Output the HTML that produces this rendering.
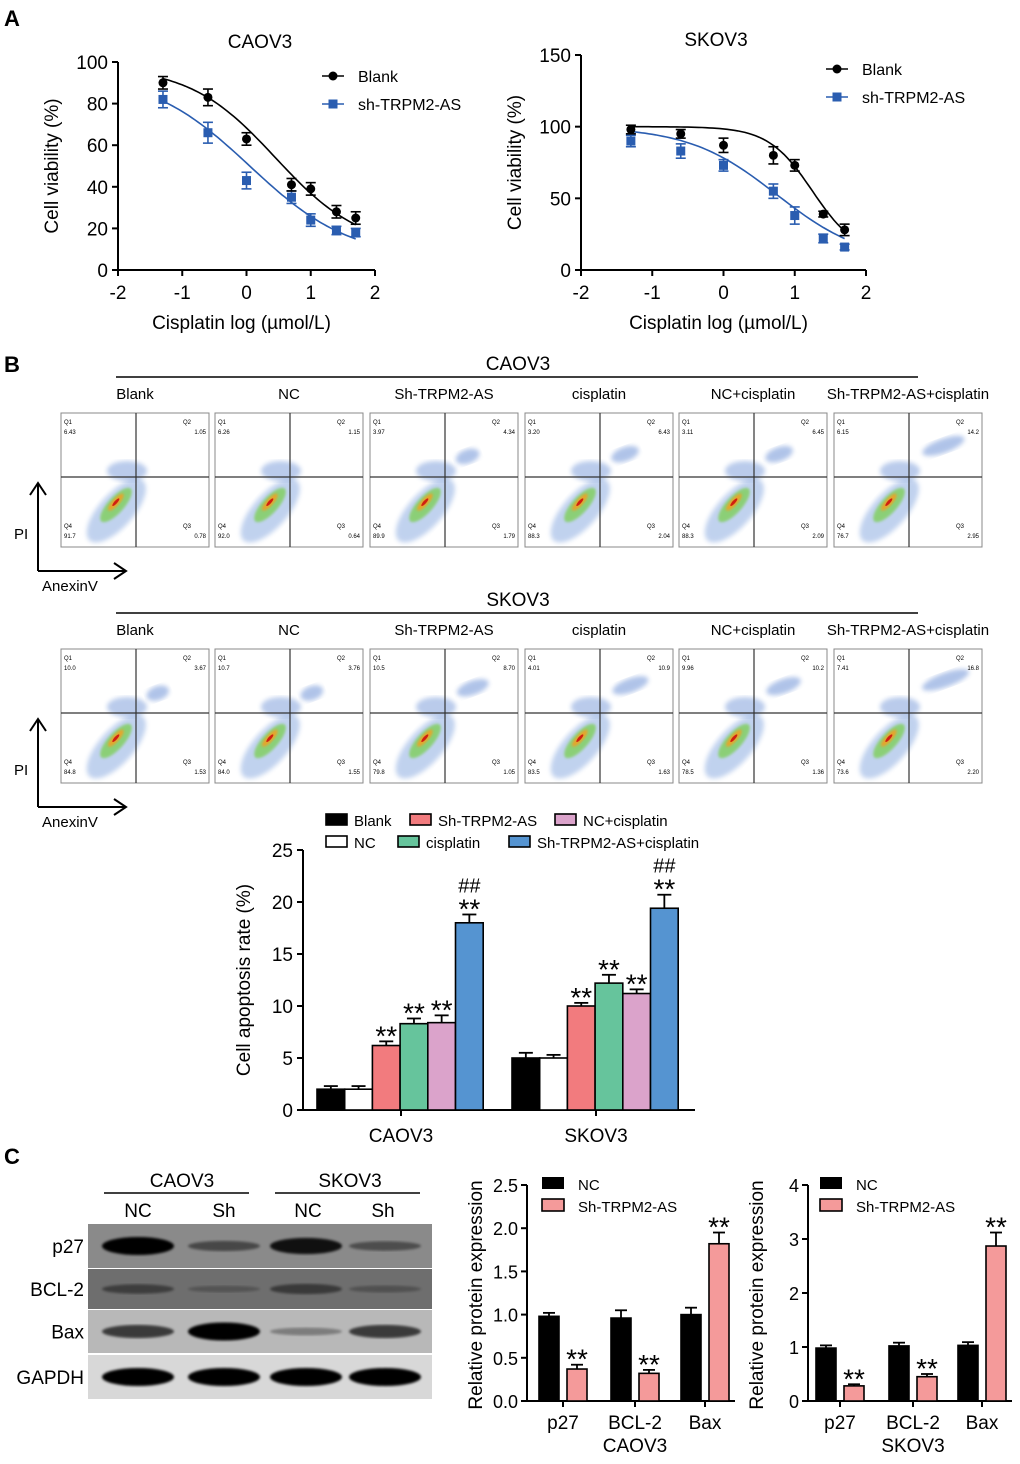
<!DOCTYPE html>
<html><head><meta charset="utf-8"><style>
html,body{margin:0;padding:0;background:#fff}
svg text{font-family:"Liberation Sans",Arial,sans-serif;fill:#000}
</style></head><body>
<svg id="fig" width="1020" height="1459" viewBox="0 0 1020 1459" xmlns="http://www.w3.org/2000/svg">
<defs>
<filter id="blur2"><feGaussianBlur stdDeviation="2.5"/></filter>
<filter id="blur1"><feGaussianBlur stdDeviation="1.2"/></filter>
</defs>
<g id="root"></g>
</svg>
<script>
// ---------- Panel A data ----------
const doseLog = [-1.3, -0.6, 0, 0.7, 1, 1.4, 1.7];
const caovBlank = [90, 83, 63, 41, 39, 28, 25];
const caovBlankErr = [3, 4, 3, 3, 3, 3, 3];
const caovSh = [82, 66, 43, 35, 24, 19, 18];
const caovShErr = [4, 5, 4, 3, 3, 2, 2];
const skovBlank = [98, 95, 87, 80, 73, 39, 28];
const skovBlankErr = [3, 3, 5, 6, 4, 2, 4];
const skovSh = [90, 83, 73, 55, 38, 22, 16];
const skovShErr = [4, 5, 4, 5, 6, 3, 2];
// ---------- Panel B bar data ----------
const apopGroups = ["CAOV3", "SKOV3"];
const apopSeries = ["Blank", "NC", "Sh-TRPM2-AS", "cisplatin", "NC+cisplatin", "Sh-TRPM2-AS+cisplatin"];
const apopCaov = [2.0, 2.0, 6.2, 8.3, 8.4, 18.0];
const apopCaovErr = [0.3, 0.3, 0.4, 0.5, 0.7, 0.8];
const apopSkov = [5.0, 5.0, 10.0, 12.2, 11.2, 19.4];
const apopSkovErr = [0.5, 0.3, 0.3, 0.8, 0.4, 1.3];
const apopTicks = [0, 5, 10, 15, 20, 25];
// ---------- Panel C bar data ----------
const protCats = ["p27", "BCL-2", "Bax"];
const protCaovNC = [0.98, 0.96, 1.0];
const protCaovNCErr = [0.04, 0.09, 0.08];
const protCaovSh = [0.37, 0.32, 1.82];
const protCaovShErr = [0.05, 0.04, 0.13];
const protSkovNC = [0.98, 1.02, 1.03];
const protSkovNCErr = [0.05, 0.06, 0.06];
const protSkovSh = [0.28, 0.45, 2.87];
const protSkovShErr = [0.03, 0.05, 0.25];
const flowCaovQ = [["6.43","1.05","91.7","0.78"],["6.26","1.15","92.0","0.64"],["3.97","4.34","89.9","1.79"],["3.20","6.43","88.3","2.04"],["3.11","6.45","88.3","2.09"],["6.15","14.2","76.7","2.95"]];
const flowSkovQ = [["10.0","3.67","84.8","1.53"],["10.7","3.76","84.0","1.55"],["10.5","8.70","79.8","1.05"],["4.01","10.9","83.5","1.63"],["9.96","10.2","78.5","1.36"],["7.41","16.8","73.6","2.20"]];
const flowTitles = ["Blank","NC","Sh-TRPM2-AS","cisplatin","NC+cisplatin","Sh-TRPM2-AS+cisplatin"];

const NS = "http://www.w3.org/2000/svg";
const root = document.getElementById("root");
function mk(tag, attrs, parent, text) {
  const e = document.createElementNS(NS, tag);
  for (const k in attrs) e.setAttribute(k, attrs[k]);
  if (text !== undefined) e.textContent = text;
  (parent || root).appendChild(e);
  return e;
}
function grp(name, parent) {
  const g = mk("g", {}, parent);
  
  
  return g;
}
function txt(parent, x, y, s, size, anchor, name, extra) {
  const a = {x: x, y: y, "font-size": size, "text-anchor": anchor || "start"};
  if (extra) for (const k in extra) a[k] = extra[k];
  const t = mk("text", a, parent, s);
  
  
  return t;
}
function line(p, x1, y1, x2, y2, w, c) { return mk("line", {x1, y1, x2, y2, stroke: c || "#000", "stroke-width": w || 2}, p); }

txt(root, 4, 26, "A", 22, "start", "panel-label-a", {"font-weight": "bold"});
txt(root, 4, 372, "B", 22, "start", "panel-label-b", {"font-weight": "bold"});
txt(root, 4, 1164, "C", 22, "start", "panel-label-c", {"font-weight": "bold"});

// ---------- Panel A ----------
function doseChart(name, title, x0, x1, y0, y1, ymax, yticks, blank, blankE, sh, shE, titleX, titleY, legX, legY, p1, p2) {
  const g = grp(name);
  const sx = v => x0 + (v + 2) / 4 * (x1 - x0);
  const sy = v => y0 - v / ymax * (y0 - y1);
  txt(g, titleX, titleY, title, 19, "middle", "chart-title");
  line(g, x0, y0, x1, y0, 2);
  line(g, x0, y0, x0, y1, 2);
  [-2, -1, 0, 1, 2].forEach(v => {
    line(g, sx(v), y0, sx(v), y0 + 6, 2);
    txt(g, sx(v), y0 + 29, String(v), 19, "middle", "x-tick-label");
  });
  yticks.forEach(v => {
    line(g, x0 - 6, sy(v), x0, sy(v), 2);
    txt(g, x0 - 10, sy(v) + 7, String(v), 19, "end", "y-tick-label");
  });
  txt(g, (x0 + x1) / 2 - 5, 329, "Cisplatin log (µmol/L)", 19, "middle", "x-axis-title");
  txt(g, 0, 0, "Cell viability (%)", 19, "middle", "y-axis-title", {transform: `translate(${x0 - 60},${(y0 + y1) / 2}) rotate(-90)`});
  function curve(p, color, cname) {
    let d = "";
    for (let v = doseLog[0]; v <= doseLog[doseLog.length - 1] + 0.001; v += 0.05) {
      const y = p.bot + (p.top - p.bot) / (1 + Math.pow(10, (v - p.ec) * p.h));
      d += (d ? "L" : "M") + sx(v).toFixed(1) + "," + sy(y).toFixed(1);
    }
    const c = mk("path", {d, fill: "none", stroke: color, "stroke-width": 1.6}, g);
    
    
  }
  curve(p1, "#000", "blank-fit-curve");
  curve(p2, "#2a5db0", "sh-fit-curve");
  function pts(vals, errs, color, shape, pname) {
    vals.forEach((v, i) => {
      const cx = sx(doseLog[i]), cy = sy(v), ey = errs[i] / ymax * (y0 - y1);
      line(g, cx, cy - ey, cx, cy + ey, 1.6, color);
      line(g, cx - 5, cy - ey, cx + 5, cy - ey, 1.6, color);
      line(g, cx - 5, cy + ey, cx + 5, cy + ey, 1.6, color);
      let m;
      if (shape === "c") m = mk("circle", {cx, cy, r: 4.5, fill: color}, g);
      else m = mk("rect", {x: cx - 4.5, y: cy - 4.5, width: 9, height: 9, fill: color}, g);
      
      
    });
  }
  pts(sh, shE, "#2a5db0", "s", "sh-point");
  pts(blank, blankE, "#000", "c", "blank-point");
  const lg = grp("legend", g);
  line(lg, legX, legY, legX + 22, legY, 1.6);
  mk("circle", {cx: legX + 11, cy: legY, r: 4.5, fill: "#000"}, lg);
  txt(lg, legX + 36, legY + 6, "Blank", 16, "start", "legend-entry-blank");
  line(lg, legX, legY + 28, legX + 22, legY + 28, 1.6, "#2a5db0");
  mk("rect", {x: legX + 6.5, y: legY + 23.5, width: 9, height: 9, fill: "#2a5db0"}, lg);
  txt(lg, legX + 36, legY + 34, "sh-TRPM2-AS", 16, "start", "legend-entry-sh");
}
doseChart("caov3-viability-chart", "CAOV3", 118, 375, 270, 62, 100, [0, 20, 40, 60, 80, 100], caovBlank, caovBlankErr, caovSh, caovShErr, 260, 48, 322, 76,
  {top: 98, bot: 10, ec: 0.45, h: 0.65}, {top: 95, bot: 5, ec: 0.05, h: 0.55});
doseChart("skov3-viability-chart", "SKOV3", 581, 866, 270, 55, 150, [0, 50, 100, 150], skovBlank, skovBlankErr, skovSh, skovShErr, 716, 46, 826, 69,
  {top: 100, bot: 10, ec: 1.25, h: 1.4}, {top: 100, bot: 5, ec: 0.75, h: 0.7});

// ---------- Panel B flow ----------
function flowRow(name, label, topY, qs) {
  const g = grp(name);
  txt(g, 518, topY - 43, label, 19, "middle", "row-title");
  line(g, 116, topY - 36, 918, topY - 36, 1.5);
  const xs = [61, 215, 370, 525, 679, 834];
  xs.forEach((x, i) => {
    const pg = grp("flow-plot-" + (i + 1), g);
    txt(pg, x + 74, topY - 14, flowTitles[i], 15, "middle", "plot-title");
    const w = 148, h = 134;
    mk("rect", {x, y: topY, width: w, height: h, fill: "#fff", stroke: "#888", "stroke-width": 1}, pg);
    const apo = parseFloat(qs[i][1]);
    const cx = x + 55, cy = topY + 92;
    mk("ellipse", {cx: cx - 4, cy: cy + 4, rx: 40, ry: 17, fill: "#4d7fd0", opacity: 0.35, filter: "url(#blur2)", transform: `rotate(-48 ${cx} ${cy})`}, pg);
    mk("ellipse", {cx: x + 66, cy: topY + 58, rx: 20, ry: 10, fill: "#3a6cc8", opacity: 0.35, filter: "url(#blur2)"}, pg);
    if (apo > 3) mk("ellipse", {cx: x + 90 + Math.min(apo, 16) * 1.5, cy: topY + 45 - Math.min(apo, 16) * 0.6, rx: 8 + apo, ry: 7, fill: "#3a6cc8", opacity: 0.4, filter: "url(#blur2)", transform: `rotate(-20 ${x + 100} ${topY + 40})`}, pg);
    mk("ellipse", {cx, cy, rx: 22, ry: 8, fill: "#7fcf5a", opacity: 0.8, filter: "url(#blur1)", transform: `rotate(-48 ${cx} ${cy})`}, pg);
    mk("ellipse", {cx: cx + 2, cy: cy - 2, rx: 11, ry: 3.5, fill: "#f0a020", opacity: 0.9, filter: "url(#blur1)", transform: `rotate(-48 ${cx} ${cy})`}, pg);
    mk("ellipse", {cx: cx + 2, cy: cy - 2, rx: 5, ry: 1.5, fill: "#d02010", transform: `rotate(-48 ${cx} ${cy})`}, pg);
    line(pg, x + 75, topY, x + 75, topY + h, 1.2, "#333");
    line(pg, x, topY + 64, x + w, topY + 64, 1.2, "#333");
    txt(pg, x + 3, topY + 11, "Q1", 6, "start", "q1-label");
    txt(pg, x + 3, topY + 21, qs[i][0], 6, "start", "q1-value");
    txt(pg, x + 122, topY + 11, "Q2", 6, "start", "q2-label");
    txt(pg, x + 145, topY + 21, qs[i][1], 6, "end", "q2-value");
    txt(pg, x + 3, topY + 115, "Q4", 6, "start", "q4-label");
    txt(pg, x + 3, topY + 125, qs[i][2], 6, "start", "q4-value");
    txt(pg, x + 122, topY + 115, "Q3", 6, "start", "q3-label");
    txt(pg, x + 145, topY + 125, qs[i][3], 6, "end", "q3-value");
  });
  const ag = grp("axis-arrows", g);
  const by = topY + 158;
  mk("path", {d: `M38,${by} L38,${topY + 70} M30,${topY + 82} L38,${topY + 70} L46,${topY + 82} M38,${by} L126,${by} M114,${by - 8} L126,${by} L114,${by + 8}`, fill: "none", stroke: "#000", "stroke-width": 2}, ag);
  txt(ag, 14, topY + 126, "PI", 15, "start", "pi-axis-label");
  txt(ag, 42, topY + 178, "AnexinV", 15, "start", "annexin-axis-label");
}
flowRow("caov3-flow-row", "CAOV3", 413, flowCaovQ);
flowRow("skov3-flow-row", "SKOV3", 649, flowSkovQ);

// ---------- Panel B bars ----------
(function () {
  const g = grp("apoptosis-bar-chart");
  const colors = ["#000", "#fff", "#f27b7e", "#66c49c", "#dba3cb", "#5594d1"];
  const y0 = 1110, y1 = 850, x0 = 303;
  const sy = v => y0 - v / 25 * (y0 - y1);
  const starts = [317, 512], bw = 27.7;
  line(g, x0, y0, 695, y0, 2);
  line(g, x0, y0, x0, y1, 2);
  apopTicks.forEach(v => { line(g, x0 - 6, sy(v), x0, sy(v), 2); txt(g, x0 - 10, sy(v) + 7, String(v), 19, "end", "y-tick-label"); });
  [401, 596].forEach((cx, i) => { line(g, cx, y0, cx, y0 + 6, 2); txt(g, cx, y0 + 32, apopGroups[i], 19, "middle", "x-tick-label"); });
  txt(g, 0, 0, "Cell apoptosis rate (%)", 19, "middle", "y-axis-title", {transform: `translate(250,980) rotate(-90)`});
  [[apopCaov, apopCaovErr], [apopSkov, apopSkovErr]].forEach((ser, gi) => {
    ser[0].forEach((v, i) => {
      const x = starts[gi] + i * bw, cx = x + bw / 2, e = ser[1][i] / 25 * (y0 - y1);
      line(g, cx, sy(v), cx, sy(v) - e, 1.8);
      line(g, cx - 7, sy(v) - e, cx + 7, sy(v) - e, 1.8);
      const r = mk("rect", {x, y: sy(v), width: bw, height: y0 - sy(v), fill: colors[i], stroke: "#000", "stroke-width": 1.6}, g);
      
      
      if (i >= 2) txt(g, cx, sy(v) - e + 4, "**", 28, "middle", "significance-marker");
      if (i === 5) txt(g, cx, sy(v) - e - 22, "##", 20, "middle", "hash-marker");
    });
  });
  const lg = grp("legend", g);
  const items = [[326, 820, 0], [410, 820, 2], [555, 820, 4], [326, 842, 1], [398, 842, 3], [509, 842, 5]];
  items.forEach(it => {
    mk("rect", {x: it[0], y: it[1] - 6, width: 21, height: 11, fill: colors[it[2]], stroke: "#000", "stroke-width": 1.6}, lg);
    txt(lg, it[0] + 28, it[1] + 6, apopSeries[it[2]], 15, "start", "legend-entry");
  });
})();

// ---------- Panel C western blot ----------
(function () {
  const g = grp("western-blot");
  txt(g, 182, 1187, "CAOV3", 19, "middle", "blot-group-caov3");
  txt(g, 350, 1187, "SKOV3", 19, "middle", "blot-group-skov3");
  line(g, 104, 1193, 249, 1193, 1.6);
  line(g, 275, 1193, 420, 1193, 1.6);
  [["NC", 138], ["Sh", 224], ["NC", 308], ["Sh", 383]].forEach(l => txt(g, l[1], 1217, l[0], 19, "middle", "lane-label"));
  const rows = [["p27", 1224, 44, "#8a8a8a", [1, 0.35, 0.85, 0.3]], ["BCL-2", 1269, 40, "#6e6e6e", [0.3, 0.05, 0.35, 0.08]], ["Bax", 1310, 43, "#b8b8b8", [0.6, 1, 0.15, 0.6]], ["GAPDH", 1355, 44, "#d8d8d8", [1, 1, 1, 1]]];
  const lanes = [138, 224, 306, 385];
  rows.forEach(r => {
    const rg = grp("blot-row-" + r[0].toLowerCase(), g);
    mk("rect", {x: 88, y: r[1], width: 344, height: r[2], fill: r[3]}, rg);
    r[4].forEach((s, i) => {
      mk("ellipse", {cx: lanes[i], cy: r[1] + r[2] / 2, rx: 36, ry: 3 + 6 * s, fill: "#000", opacity: 0.2 + 0.8 * s, filter: "url(#blur1)"}, rg);
    });
    txt(rg, 84, r[1] + r[2] / 2 + 7, r[0], 19, "end", "blot-label");
  });
})();

// ---------- Panel C bar charts ----------
function protChart(name, x0, xEnd, ymax, ticks, centers, nc, ncE, sh, shE, cell, legX) {
  const g = grp(name);
  const y0 = 1401, y1 = 1185;
  const sy = v => y0 - v / ymax * (y0 - y1);
  line(g, x0, y0, xEnd, y0, 2);
  line(g, x0, y0, x0, y1, 2);
  ticks.forEach(v => { line(g, x0 - 6, sy(v), x0, sy(v), 2); txt(g, x0 - 9, sy(v) + 7, ymax > 3 ? String(v) : v.toFixed(1), 18, "end", "y-tick-label"); });
  txt(g, 0, 0, "Relative protein expression", 19, "middle", "y-axis-title", {transform: `translate(${x0 - 45},1295) rotate(-90)`});
  centers.forEach((c, i) => {
    line(g, c, y0, c, y0 + 6, 2);
    txt(g, c, y0 + 28, protCats[i], 19, "middle", "x-tick-label");
    [[nc, ncE, "#000", c - 24], [sh, shE, "#f49a9a", c + 4]].forEach((s, j) => {
      const v = s[0][i], e = s[1][i] / ymax * (y0 - y1), cx = s[3] + 10;
      line(g, cx, sy(v), cx, sy(v) - e, 1.8);
      line(g, cx - 6, sy(v) - e, cx + 6, sy(v) - e, 1.8);
      const r = mk("rect", {x: s[3], y: sy(v), width: 20, height: y0 - sy(v), fill: s[2], stroke: "#000", "stroke-width": 1.6}, g);
      
      
      if (j) txt(g, cx, sy(v) - e + 4, "**", 28, "middle", "significance-marker");
    });
  });
  txt(g, centers[1], 1452, cell, 19, "middle", "x-axis-title");
  const lg = grp("legend", g);
  mk("rect", {x: legX, y: 1177, width: 22, height: 12, fill: "#000"}, lg);
  txt(lg, legX + 36, 1190, "NC", 15, "start", "legend-entry-nc");
  mk("rect", {x: legX, y: 1199, width: 22, height: 12, fill: "#f49a9a", stroke: "#000", "stroke-width": 1.6}, lg);
  txt(lg, legX + 36, 1212, "Sh-TRPM2-AS", 15, "start", "legend-entry-sh");
}
protChart("caov3-protein-chart", 527, 735, 2.5, [0, 0.5, 1.0, 1.5, 2.0, 2.5], [563, 635, 705], protCaovNC, protCaovNCErr, protCaovSh, protCaovShErr, "CAOV3", 542);
protChart("skov3-protein-chart", 808, 1012, 4, [0, 1, 2, 3, 4], [840, 913, 982], protSkovNC, protSkovNCErr, protSkovSh, protSkovShErr, "SKOV3", 820);
</script>
</body></html>
